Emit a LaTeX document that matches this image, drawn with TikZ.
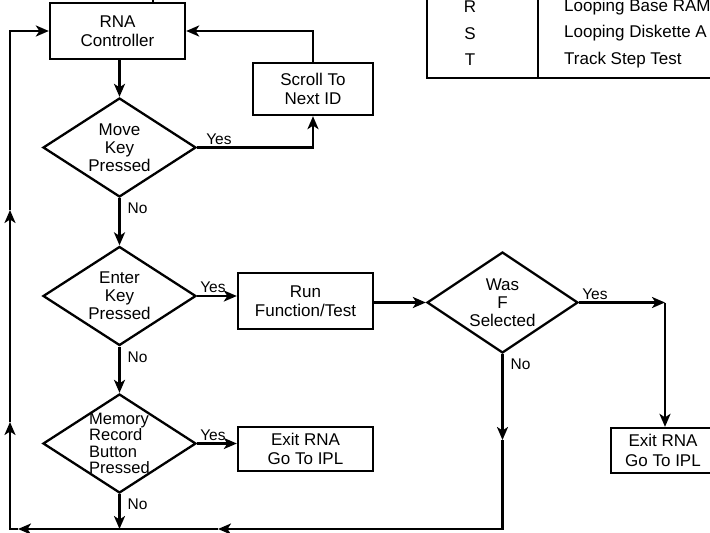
\documentclass[tikz,border=0pt]{standalone}
\usepackage{fontspec}
\setmainfont{Liberation Sans}
\usetikzlibrary{shapes.geometric,arrows.meta}

\begin{document}
\begin{tikzpicture}[x=1pt,y=-1pt,line width=2.3pt,
    >={Stealth[length=13pt,width=11pt,inset=3.5pt]},
    box/.style={draw,rectangle,align=center,inner sep=0pt,
        minimum width=135pt,minimum height=56pt,
        font=\fontsize{17}{19.5}\selectfont},
    decision/.style={draw,diamond,inner sep=0pt,
        minimum width=153pt,minimum height=99pt},
    txt/.style={align=center,inner sep=0pt,font=\fontsize{17}{18}\selectfont},
    yes/.style={anchor=south west,inner sep=2pt,font=\fontsize{15.5}{17}\selectfont},
    no/.style={anchor=north west,inner sep=2pt,xshift=5pt,yshift=-2pt,
        font=\fontsize{15.5}{17}\selectfont}]
    \useasboundingbox (0,0) rectangle (710,533);
    \clip (0,0) rectangle (710,533);

    % test table
    \draw[line width=1.5pt] (427,-5) -- (427,78) -- (720,78);
    \draw[line width=1.5pt] (538,-5) -- (538,78);
    \foreach \k/\t [count=\i] in {R/Looping Base RAM,S/Looping Diskette A,T/Track Step Test} {
        \node[font=\fontsize{17}{19}\selectfont] (key\i) at (470,{7+(\i-1)*26.5}) {\k};
        \node[font=\fontsize{17}{19}\selectfont,anchor=west,inner sep=0pt] (desc\i) at (563,{7+(\i-1)*26.5}) {\t};
    }

    % boxes and decisions
    \node[box] (ctrl) at (117.5,31) {RNA\\Controller};
    \node[box,minimum width=120pt,minimum height=52pt] (scroll) at (313,89) {Scroll To\\Next ID};
    \node[decision,label={[txt]center:Move\\Key\\Pressed}] (move) at (119.5,147.5) {};
    \node[decision,label={[txt]center:Enter\\Key\\Pressed}] (enter) at (119.5,296) {};
    \node[decision,label={[txt,align=left,font=\fontsize{16.5}{16.5}\selectfont]center:Memory\\Record\\Button\\Pressed}] (mem) at (119.5,443.5) {};
    \node[box] (run) at (305.5,301) {Run\\Function/Test};
    \node[box,minimum height=44pt] (exit) at (305.5,449) {Exit RNA\\Go To IPL};
    \node[decision,minimum width=151pt,minimum height=101pt,
        label={[txt]center:Was\\F\\Selected}] (was) at (502.5,302.5) {};
    \node[box,minimum width=104pt,minimum height=45pt] (exitf) at (663,450.5) {Exit RNA\\Go To IPL};

    \coordinate (in) at (153,-5);
    \coordinate (ycorner) at (665,302.5);
    \coordinate (nomid) at (502.5,440);
    \coordinate (br) at (502.5,529);
    \coordinate (b1) at (218,529);
    \coordinate (b2) at (18,529);
    \coordinate (bl) at (10,529);
    \coordinate (l1) at (10,422);
    \coordinate (l2) at (10,210);

    % connectors
    \draw (in) -- (in |- ctrl.north);
    \draw[->] (move.north |- ctrl.south) -- (move.north);
    \draw[->] (move.east) node[yes,xshift=6pt]{Yes} -| (scroll.south);
    \draw[->] (scroll.north) |- (ctrl.east);
    \draw[->] (move.south) node[no]{No} -- (enter.north);
    \draw[->] (enter.east) node[yes]{Yes} -- (enter.east -| run.west);
    \draw[->] (enter.south) node[no]{No} -- (mem.north);
    \draw[->] (run.east |- was.west) -- (was.west);
    \draw[->] (mem.east) node[yes]{Yes} -- (mem.east -| exit.west);
    \draw[->] (was.east) node[yes]{Yes} -- (ycorner);
    \draw[->] (ycorner) -- (ycorner |- exitf.north);
    \draw[->] (was.south) node[no]{No} -- (nomid);
    \draw[->] (nomid) -- (br) -- (b1);
    \draw[->] (b1) -- (b2);
    \draw[->] (b2) -- (bl) -- (l1);
    \draw[->] (l1) -- (l2);
    \draw[->] (l2) |- (ctrl.west);
    \draw[->] (mem.south) node[no]{No} -- (mem.south |- br);
\end{tikzpicture}
\end{document}
